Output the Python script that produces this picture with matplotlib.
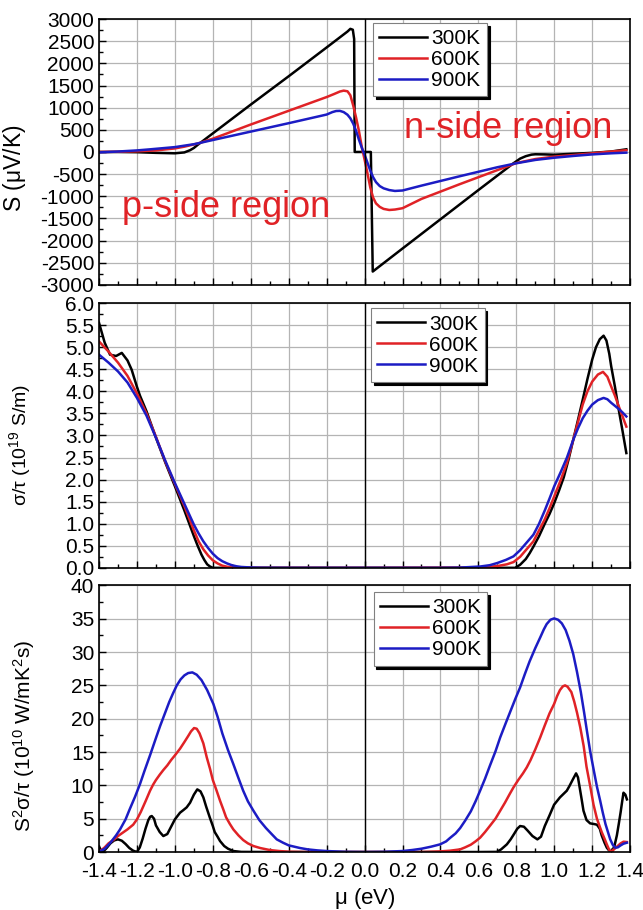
import matplotlib.pyplot as plt
import numpy as np
from matplotlib.ticker import MultipleLocator

plt.rcParams['font.family'] = ['Liberation Sans', 'DejaVu Sans']
plt.rcParams['mathtext.fontset'] = 'custom'
plt.rcParams['mathtext.rm'] = 'Liberation Sans'
plt.rcParams['mathtext.it'] = 'Liberation Sans'

labels = ['300K', '600K', '900K']
colors = ['black', '#e02226', '#1c1cc4']

# --- Seebeck coefficient S (uV/K) ---
s300_x = [-1.4, -1.3, -1.2, -1.1, -1.0, -0.95, -0.92, -0.9, -0.88, -0.86, -0.8, -0.6, -0.4,
          -0.2, -0.09, -0.075, -0.062, -0.055, -0.052, 0.033, 0.043, 0.2, 0.4, 0.6,
          0.75, 0.78, 0.8, 0.82, 0.85, 0.88, 0.9, 0.95, 1.0, 1.1, 1.2, 1.3, 1.38]
s300_y = [0, 0, -5, -20, -30, -10, 40, 90, 160, 225, 420, 1070, 1710,
          2360, 2720, 2780, 2760, 2550, 0, 0, -2700, -2180, -1520, -860,
          -370, -270, -210, -150, -95, -60, -52, -55, -62, -40, -20, 10, 60]
s600_x = [-1.4, -1.3, -1.2, -1.1, -1.0, -0.95, -0.9, -0.868, -0.8, -0.6, -0.4, -0.2,
          -0.16, -0.13, -0.11, -0.09, -0.075, -0.06, -0.045, -0.03, -0.015, 0.0,
          0.015, 0.03, 0.045, 0.06, 0.08, 0.1, 0.13, 0.16, 0.2, 0.3, 0.5, 0.7, 0.8,
          0.9, 1.0, 1.1, 1.2, 1.3, 1.38]
s600_y = [0, 5, 15, 35, 80, 120, 170, 205, 300, 620, 930, 1240,
          1310, 1365, 1385, 1370, 1280, 1050, 780, 480, 120, -170,
          -480, -800, -1030, -1160, -1240, -1285, -1310, -1300, -1270, -1060, -730, -410, -250,
          -160, -105, -70, -30, 10, 40]
s900_x = [-1.4, -1.3, -1.2, -1.13, -1.0, -0.9, -0.868, -0.8, -0.6, -0.4, -0.2,
          -0.17, -0.15, -0.13, -0.11, -0.09, -0.075, -0.06, -0.045, -0.03, -0.015,
          0.0, 0.015, 0.03, 0.045, 0.06, 0.08, 0.1, 0.13, 0.16, 0.2,
          0.3, 0.5, 0.7, 0.8, 0.9, 1.0, 1.1, 1.2, 1.3, 1.38]
s900_y = [-10, 10, 35, 60, 110, 175, 205, 270, 460, 650, 845,
          900, 925, 928, 900, 840, 760, 640, 480, 280, 100,
          -60, -240, -420, -570, -680, -770, -820, -860, -880, -870,
          -760, -550, -345, -255, -180, -130, -90, -55, -30, -15]

# --- sigma/tau (1e19 S/m) ---
c300_x = [-1.4, -1.37, -1.342, -1.31, -1.28, -1.25, -1.228, -1.2, -1.184, -1.15, -1.1,
          -1.05, -1.0, -0.95, -0.9, -0.88, -0.86, -0.845, -0.83, -0.815, -0.8, 0.0,
          0.794, 0.82, 0.85, 0.87, 0.89, 0.92, 0.95, 0.975, 1.0, 1.025, 1.05, 1.075,
          1.1, 1.125, 1.15, 1.175, 1.2, 1.22, 1.24, 1.26, 1.275, 1.29, 1.3, 1.32,
          1.34, 1.36, 1.38]
c300_y = [5.55, 5.1, 4.83, 4.8, 4.87, 4.7, 4.49, 4.1, 3.9, 3.55, 2.95,
          2.38, 1.85, 1.3, 0.72, 0.5, 0.3, 0.18, 0.08, 0.03, 0.0, 0.0,
          0.0, 0.07, 0.2, 0.33, 0.48, 0.72, 1.0, 1.22, 1.47, 1.75, 2.05, 2.45,
          2.9, 3.35, 3.81, 4.28, 4.72, 5.0, 5.18, 5.26, 5.15, 4.85, 4.57, 4.1,
          3.58, 3.1, 2.6]
c600_x = [-1.4, -1.35, -1.3, -1.25, -1.2, -1.15, -1.1, -1.05, -1.0, -0.95, -0.9, -0.875,
          -0.85, -0.825, -0.8, -0.775, -0.75, -0.725, -0.7, -0.65, -0.6, 0.0,
          0.6, 0.7, 0.75, 0.785, 0.82, 0.85, 0.89, 0.92, 0.95, 0.975, 1.0, 1.035,
          1.067, 1.1, 1.125, 1.15, 1.175, 1.2, 1.23, 1.257, 1.28, 1.3, 1.32, 1.34,
          1.36, 1.38]
c600_y = [5.13, 4.9, 4.65, 4.35, 3.95, 3.5, 2.97, 2.4, 1.9, 1.4, 0.85, 0.6,
          0.42, 0.28, 0.17, 0.1, 0.05, 0.025, 0.01, 0.003, 0.0, 0.0,
          0.005, 0.04, 0.08, 0.13, 0.25, 0.4, 0.6, 0.85, 1.1, 1.35, 1.62, 2.0,
          2.38, 2.9, 3.3, 3.7, 4.0, 4.22, 4.38, 4.44, 4.33, 4.11, 3.9, 3.66,
          3.43, 3.2]
c900_x = [-1.4, -1.35, -1.3, -1.25, -1.2, -1.15, -1.1, -1.05, -1.0, -0.95, -0.9, -0.875,
          -0.85, -0.825, -0.8, -0.775, -0.75, -0.725, -0.7, -0.675, -0.65, -0.6,
          -0.55, -0.4, 0.0, 0.4, 0.5, 0.609, 0.66, 0.7, 0.745, 0.785, 0.82, 0.85,
          0.89, 0.92, 0.95, 0.975, 1.0, 1.035, 1.067, 1.1, 1.125, 1.15, 1.175, 1.2,
          1.23, 1.26, 1.28, 1.3, 1.32, 1.34, 1.36, 1.38]
c900_y = [4.83, 4.65, 4.45, 4.2, 3.85, 3.45, 2.95, 2.42, 1.92, 1.45, 0.98, 0.78,
          0.6, 0.45, 0.32, 0.22, 0.15, 0.1, 0.06, 0.035, 0.02, 0.008,
          0.003, 0.0, 0.0, 0.0, 0.005, 0.03, 0.06, 0.11, 0.18, 0.26, 0.4, 0.55,
          0.75, 1.0, 1.3, 1.57, 1.85, 2.18, 2.5, 2.9, 3.16, 3.39, 3.56, 3.7,
          3.8, 3.85, 3.82, 3.74, 3.67, 3.6, 3.52, 3.43]

# --- power factor S^2 sigma/tau (1e10 W/mK^2 s) ---
p300_x = [-1.4, -1.39, -1.38, -1.36, -1.34, -1.32, -1.3, -1.28, -1.26, -1.24, -1.22,
          -1.2, -1.185, -1.17, -1.155, -1.14, -1.13, -1.122, -1.11, -1.1, -1.08,
          -1.061, -1.04, -1.02, -1.0, -0.973, -0.955, -0.938, -0.92, -0.9, -0.882,
          -0.865, -0.85, -0.835, -0.815, -0.8, -0.79, -0.775, -0.762, -0.74, -0.72,
          -0.692, -0.65, -0.5, 0.0, 0.6, 0.697, 0.72, 0.75, 0.77, 0.79, 0.805, 0.82,
          0.84, 0.86, 0.885, 0.911, 0.93, 0.95, 0.975, 0.999, 1.03, 1.066, 1.08,
          1.1, 1.115, 1.125, 1.135, 1.145, 1.154, 1.17, 1.189, 1.21, 1.225, 1.24,
          1.25, 1.265, 1.277, 1.29, 1.304, 1.318, 1.33, 1.34, 1.35, 1.358, 1.365,
          1.375, 1.383]
p300_y = [0.8, 0.3, 0.0, 0.6, 1.3, 1.75, 1.9, 1.7, 1.2, 0.6, 0.2,
          0.0, 0.7, 2.0, 3.5, 4.8, 5.3, 5.4, 5.0, 4.0, 3.0,
          2.4, 2.7, 3.8, 4.9, 5.9, 6.3, 6.7, 7.4, 8.6, 9.4,
          9.1, 8.2, 6.8, 5.1, 3.9, 3.0, 2.3, 1.65, 0.9, 0.5,
          0.15, 0.02, 0.0, 0.0, 0.0, 0.02, 0.4, 1.15, 1.9, 2.8, 3.5, 3.9,
          3.8, 3.2, 2.4, 1.9, 2.3, 3.9, 5.5, 7.1, 8.2, 9.2, 9.9,
          11.0, 11.8, 11.2, 9.5, 7.8, 6.2, 4.8, 4.3, 4.2, 4.1, 3.5,
          2.5, 1.4, 0.65, 0.2, 0.0, 1.0, 2.5, 4.2, 6.0, 7.6, 8.9,
          8.6, 7.9]
p600_x = [-1.4, -1.37, -1.35, -1.32, -1.3, -1.27, -1.25, -1.22, -1.2, -1.18, -1.155,
          -1.131, -1.115, -1.1, -1.08, -1.061, -1.04, -1.02, -1.0, -0.973, -0.95,
          -0.93, -0.915, -0.899, -0.885, -0.87, -0.85, -0.832, -0.815, -0.8, -0.78,
          -0.762, -0.745, -0.73, -0.71, -0.692, -0.665, -0.64, -0.615, -0.586,
          -0.55, -0.5, -0.45, -0.4, -0.3, 0.0, 0.3, 0.35, 0.4, 0.45, 0.504, 0.53,
          0.56, 0.585, 0.609, 0.635, 0.66, 0.69, 0.715, 0.74, 0.765, 0.785, 0.81,
          0.835, 0.855, 0.875, 0.9, 0.926, 0.95, 0.975, 0.999, 1.015, 1.03, 1.045,
          1.057, 1.07, 1.09, 1.105, 1.12, 1.137, 1.155, 1.17, 1.19, 1.207, 1.225,
          1.25, 1.265, 1.277, 1.29, 1.3, 1.315, 1.33, 1.35, 1.365, 1.383]
p600_y = [0.0, 0.7, 1.3, 1.9, 2.4, 3.0, 3.4, 4.1, 4.9, 6.0, 7.6,
          9.2, 10.1, 10.8, 11.6, 12.3, 13.0, 13.8, 14.5, 15.5, 16.5,
          17.4, 18.1, 18.6, 18.5, 17.8, 16.3, 14.2, 12.5, 10.8, 9.2,
          7.7, 6.4, 5.2, 4.2, 3.4, 2.5, 1.8, 1.3, 0.9,
          0.6, 0.3, 0.15, 0.05, 0.0, 0.0, 0.0, 0.05, 0.1, 0.2, 0.4, 0.7,
          1.1, 1.6, 2.15, 3.0, 3.9, 5.0, 6.2, 7.4, 8.7, 9.7, 10.8,
          11.8, 12.7, 13.8, 15.4, 17.2, 19.0, 20.8, 22.2, 23.4, 24.3, 24.85,
          25.0, 24.8, 24.0, 22.6, 20.9, 18.7, 15.9, 12.8, 9.8, 7.1, 5.0,
          3.0, 2.0, 1.15, 0.3, 0.1, 0.4, 0.8, 1.3, 1.55, 1.5]
p900_x = [-1.4, -1.37, -1.34, -1.31, -1.289, -1.26, -1.24, -1.21, -1.184, -1.16, -1.13,
          -1.1, -1.078, -1.05, -1.03, -1.01, -0.99, -0.97, -0.95, -0.93, -0.908,
          -0.885, -0.86, -0.83, -0.797, -0.775, -0.75, -0.72, -0.692, -0.665, -0.64,
          -0.615, -0.586, -0.555, -0.52, -0.49, -0.463, -0.43, -0.4, -0.37, -0.34,
          -0.3, -0.25, -0.2, -0.1, 0.0, 0.1, 0.2, 0.25, 0.3, 0.35, 0.398, 0.43,
          0.45, 0.48, 0.504, 0.53, 0.56, 0.585, 0.609, 0.635, 0.66, 0.69, 0.715,
          0.745, 0.77, 0.795, 0.82, 0.845, 0.87, 0.9, 0.926, 0.945, 0.96, 0.98,
          0.999, 1.02, 1.04, 1.06, 1.08, 1.1, 1.12, 1.14, 1.157, 1.172, 1.19, 1.21,
          1.225, 1.242, 1.255, 1.27, 1.283, 1.295, 1.308, 1.321, 1.335, 1.35,
          1.365, 1.383]
p900_y = [0.0, 0.5, 1.4, 2.5, 3.4, 4.9, 6.3, 8.3, 10.2, 12.2, 14.6,
          17.1, 18.9, 21.0, 22.5, 23.8, 25.0, 25.9, 26.5, 26.85, 26.95,
          26.6, 25.8, 24.3, 22.2, 20.3, 17.8, 15.3, 13.2, 11.1, 9.2,
          7.6, 6.2, 4.8, 3.6, 2.7, 1.9, 1.4, 1.0, 0.8, 0.6,
          0.4, 0.25, 0.15, 0.03, 0.0, 0.03, 0.15, 0.3, 0.5, 0.8, 1.15, 1.6,
          2.1, 2.8, 3.6, 4.7, 6.1, 7.6, 9.2, 11.0, 12.9, 15.1, 17.2,
          19.4, 21.2, 23.0, 24.7, 26.7, 28.6, 30.6, 32.2, 33.4, 34.2, 34.85,
          35.05, 34.85, 34.3, 33.3, 31.7, 29.7, 27.0, 24.0, 21.0, 18.2, 15.0, 12.0,
          9.8, 7.7, 6.0, 4.2, 3.0, 1.9, 1.1, 0.65, 0.7, 1.0,
          1.25, 1.4]

fig = plt.figure(figsize=(6.43, 9.10), dpi=100)
ax1 = fig.add_axes([0.154, 0.687, 0.826, 0.292])
ax2 = fig.add_axes([0.154, 0.376, 0.826, 0.291])
ax3 = fig.add_axes([0.154, 0.0637, 0.826, 0.293])

panels = [
    (ax1, [(s300_x, s300_y), (s600_x, s600_y), (s900_x, s900_y)],
     (-3000, 3000), 500, 250, r'S ($\mu$V/K)', 16.5, 0.44, -0.134, 0.516, 0.986),
    (ax2, [(c300_x, c300_y), (c600_x, c600_y), (c900_x, c900_y)],
     (0, 6), 0.5, 0.25, r'$\sigma/\tau$ (10$^{19}$ S/m)', 14, 0.464, -0.124, 0.512, 0.98),
    (ax3, [(p300_x, p300_y), (p600_x, p600_y), (p900_x, p900_y)],
     (0, 40), 5, 2.5, r'S$^2$$\sigma/\tau$ (10$^{10}$ W/mK$^2$s)', 15, 0.435, -0.117, 0.517, 0.975),
]

for ax, series, ylim, major, minor, ylabel, lfs, ly, lx, legx, legy in panels:
    for (x, y), lab, col in zip(series, labels, colors):
        ax.plot(x, y, color=col, lw=1.8, label=lab, solid_joinstyle='round')
    ax.axvline(0, color='black', lw=1.0)
    ax.set_xlim(-1.4, 1.4)
    ax.set_ylim(*ylim)
    ax.xaxis.set_major_locator(MultipleLocator(0.2))
    ax.xaxis.set_minor_locator(MultipleLocator(0.1))
    ax.yaxis.set_major_locator(MultipleLocator(major))
    ax.yaxis.set_minor_locator(MultipleLocator(minor))
    ax.grid(True, which='major', color='#b4b4b4', lw=0.9)
    ax.set_axisbelow(True)
    ax.tick_params(which='both', direction='in', labelsize=15, top=False, right=False)
    ax.tick_params(which='major', length=5, width=1)
    ax.tick_params(which='minor', length=3, width=1)
    for sp in ax.spines.values():
        sp.set_linewidth(1.2)
    ax.set_ylabel(ylabel, fontsize=lfs)
    ax.yaxis.set_label_coords(lx, ly)
    leg = ax.legend(loc='upper left', bbox_to_anchor=(legx, legy), borderaxespad=0,
                    fontsize=15, handlelength=2.3, handletextpad=0.2, labelspacing=0.1,
                    borderpad=0.3, fancybox=False, framealpha=1, edgecolor='#808080',
                    shadow={'color': 'black', 'alpha': 1})
    leg.get_frame().set_linewidth(0.8)

ax1.yaxis.set_major_formatter(plt.FormatStrFormatter('%d'))
ax2.yaxis.set_major_formatter(plt.FormatStrFormatter('%.1f'))
ax3.yaxis.set_major_formatter(plt.FormatStrFormatter('%d'))
ax1.tick_params(labelbottom=False)
ax2.tick_params(labelbottom=False)
ax3.tick_params(axis='x', pad=7)
ax3.xaxis.set_major_formatter(plt.FormatStrFormatter('%.1f'))
ax3.set_xlabel(r'$\mu$ (eV)', fontsize=16)

ax1.text(-1.28, -1264, 'p-side region', color='#e02226', fontsize=26, va='center')
ax1.text(0.208, 535, 'n-side region', color='#e02226', fontsize=26, va='center')

fig.savefig('out.png', dpi=100)
